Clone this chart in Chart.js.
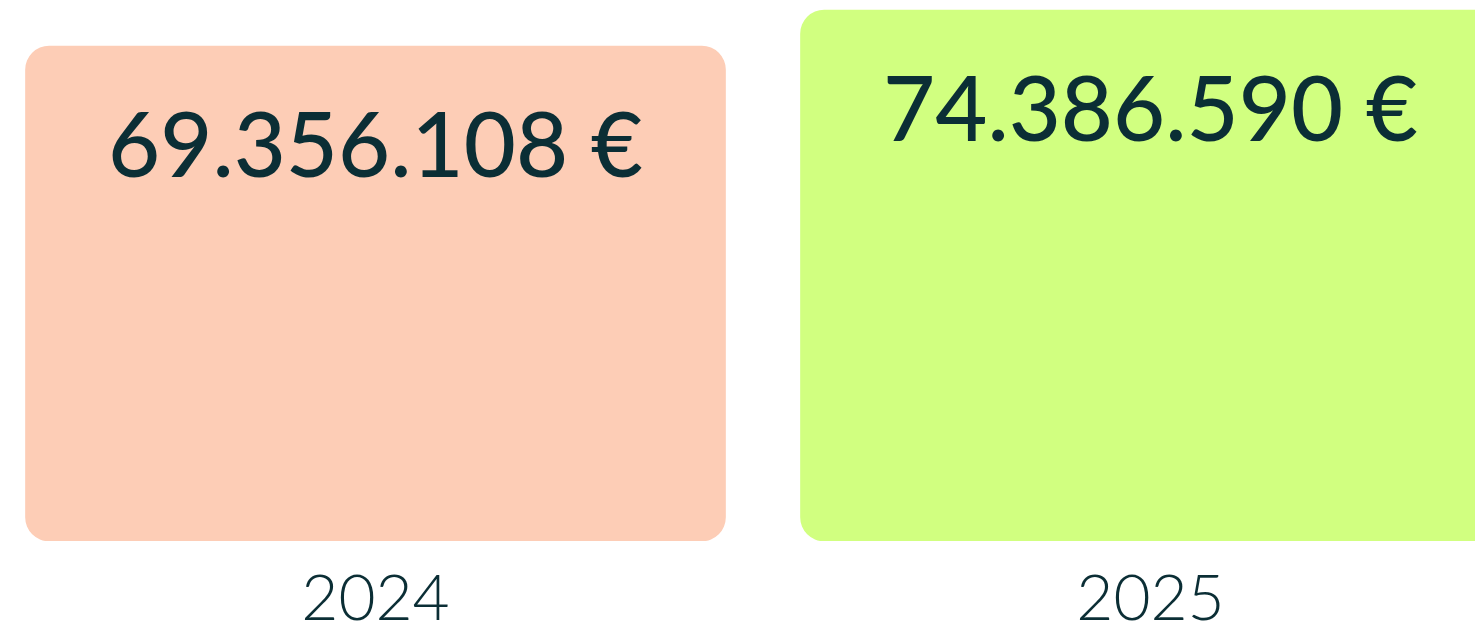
<!DOCTYPE html>
<html>
<head>
<meta charset="utf-8">
<script src="https://cdn.jsdelivr.net/npm/chart.js"></script>
<style>
  html, body { margin: 0; padding: 0; background: #ffffff; overflow: hidden; }
  .wrap { width: 1475px; height: 638px; overflow: hidden; position: relative; }
  canvas { position: absolute; left: -12px; top: 0; }
</style>
</head>
<body>
<div class="wrap"><canvas id="chart" width="1550" height="638"></canvas></div>
<script>
const years = ['2024', '2025'];
const amounts = [69356108, 74386590];
const barColors = ['#fdcdb6', '#d1ff80'];

const textColor = '#0b2e35';

// format like 69.356.108 €
function euro(v) {
  return String(v).replace(/\B(?=(\d{3})+(?!\d))/g, '.') + ' €';
}

// draw the amount inside each bar, near its top
const valueLabels = {
  id: 'valueLabels',
  afterDatasetsDraw(chart) {
    const ctx = chart.ctx;
    const meta = chart.getDatasetMeta(0);
    ctx.save();
    ctx.font = '500 90px Lato';
    ctx.fillStyle = textColor;
    ctx.textAlign = 'center';
    ctx.textBaseline = 'middle';
    meta.data.forEach((bar, i) => {
      ctx.fillText(euro(amounts[i]), bar.x, bar.y + 102);
    });
    ctx.restore();
  }
};

new Chart(document.getElementById('chart'), {
  type: 'bar',
  data: {
    labels: years,
    datasets: [{
      data: amounts,
      backgroundColor: barColors,
      borderRadius: 24,
      borderSkipped: false,
      barThickness: 700
    }]
  },
  options: {
    responsive: false,
    animation: false,
    layout: { padding: 0 },
    plugins: {
      legend: { display: false },
      tooltip: { enabled: false }
    },
    scales: {
      x: {
        grid: { display: false },
        border: { display: false },
        afterFit(scale) { scale.height = 97; },
        ticks: {
          color: textColor,
          padding: 12,
          font: { family: 'Lato', size: 64, weight: 300, lineHeight: 1.2 }
        }
      },
      y: {
        display: false,
        min: 0,
        max: 75800000
      }
    }
  },
  plugins: [valueLabels]
});
</script>
</body>
</html>
